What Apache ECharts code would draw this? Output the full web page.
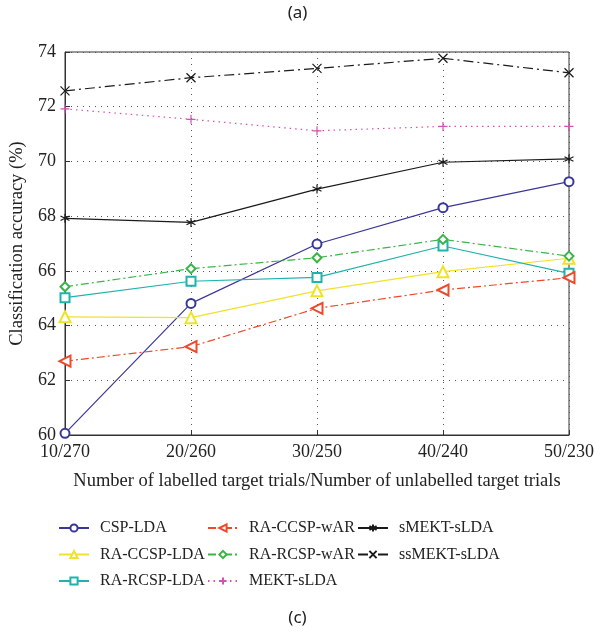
<!DOCTYPE html>
<html lang="en">

<head>
    <meta charset="UTF-8">
    <title>Classification accuracy</title>
    <style>
        * {
            margin: 0;
            padding: 0;
        }

        .box {
            width: 595px;
            height: 634px;
        }
    </style>
</head>

<body>
    <div class="box"></div>

    <script src="https://cdn.jsdelivr.net/npm/echarts@6/dist/echarts.min.js"></script>
    <script>
        var categories = ['10/270', '20/260', '30/250', '40/240', '50/230'];
        var yTicks = [60, 62, 64, 66, 68, 70, 72, 74];

        var cspLda = [60.06, 64.81, 66.98, 68.31, 69.26];
        var raCcspLda = [64.32, 64.29, 65.27, 65.97, 66.46];
        var raRcspLda = [65.02, 65.62, 65.76, 66.91, 65.91];
        var raCcspWar = [62.70, 63.23, 64.63, 65.30, 65.75];
        var raRcspWar = [65.42, 66.08, 66.48, 67.15, 66.54];
        var mektSlda = [71.92, 71.54, 71.12, 71.28, 71.28];
        var smektSlda = [67.92, 67.77, 68.99, 69.97, 70.09];
        var ssmektSlda = [72.58, 73.06, 73.40, 73.77, 73.24];

        var font = 'Liberation Serif';
        var plusPath = 'path://M5,0L5,10M0,5L10,5';
        var starPath = 'path://M5,0L5,10M0.7,2.5L9.3,7.5M0.7,7.5L9.3,2.5';
        var crossPath = 'path://M0,0L10,10M0,10L10,0';
        var dashDot = [8, 3, 2, 3];

        // name, data, color, symbol, line type, rotate
        var defs = [
            ['CSP-LDA', cspLda, '#3a3797', 'emptyCircle', 'solid', 0],
            ['RA-CCSP-LDA', raCcspLda, '#f0e229', 'emptyTriangle', 'solid', 0],
            ['RA-RCSP-LDA', raRcspLda, '#1fb3ad', 'emptyRect', 'solid', 0],
            ['RA-CCSP-wAR', raCcspWar, '#ec4a2b', 'emptyTriangle', dashDot, 90],
            ['RA-RCSP-wAR', raRcspWar, '#3bb54a', 'emptyDiamond', dashDot, 0],
            ['MEKT-sLDA', mektSlda, '#d552b2', plusPath, [1.5, 4], 0],
            ['sMEKT-sLDA', smektSlda, '#1a1a1a', starPath, 'solid', 0],
            ['ssMEKT-sLDA', ssmektSlda, '#1a1a1a', crossPath, [10, 4, 2, 4], 0]
        ];

        var series = [];
        defs.forEach(function (d) {
            var isPath = d[3].indexOf('path://') === 0;
            series.push({
                name: d[0],
                type: 'line',
                data: d[1],
                color: d[2],
                symbol: d[3],
                symbolSize: d[3] === 'emptyTriangle' ? 11 : 9,
                symbolRotate: d[5],
                showAllSymbol: true,
                lineStyle: {
                    color: d[2],
                    width: 1.2,
                    type: d[4]
                },
                itemStyle: isPath ? {
                    color: 'rgba(0,0,0,0)',
                    borderColor: d[2],
                    borderWidth: 1.2
                } : {
                    color: d[2],
                    borderWidth: 1.2
                },
                emphasis: { disabled: true },
                animation: false
            });
        });

        function legendCol(left, names) {
            return {
                left: left,
                top: 520,
                padding: 0,
                orient: 'vertical',
                data: names,
                itemWidth: 30,
                itemHeight: 9,
                itemGap: 10.5,
                textStyle: {
                    fontFamily: font,
                    fontSize: 16,
                    color: '#222',
                    padding: [0, 0, 0, 6]
                }
            };
        }

        var myChart = echarts.init(document.querySelector('.box'));
        var option = {
            backgroundColor: '#fff',
            title: [{
                text: '(a)',
                left: 'center',
                top: 0,
                textStyle: { fontFamily: 'Noto Sans', fontSize: 17, fontWeight: 'normal', color: '#222' }
            }, {
                text: '(c)',
                left: 'center',
                top: 605,
                textStyle: { fontFamily: 'Noto Sans', fontSize: 17, fontWeight: 'normal', color: '#222' }
            }],
            legend: [
                legendCol(58, ['CSP-LDA', 'RA-CCSP-LDA', 'RA-RCSP-LDA']),
                legendCol(207, ['RA-CCSP-wAR', 'RA-RCSP-wAR', 'MEKT-sLDA']),
                legendCol(357, ['sMEKT-sLDA', 'ssMEKT-sLDA'])
            ],
            grid: {
                left: 65,
                right: 26,
                top: 52,
                bottom: 199,
                outerBoundsMode: 'none',
                show: true,
                borderColor: '#333',
                borderWidth: 1
            },
            xAxis: {
                type: 'category',
                data: categories,
                boundaryGap: false,
                name: 'Number of labelled target trials/Number of unlabelled target trials',
                nameLocation: 'middle',
                nameGap: 37,
                nameTextStyle: { fontFamily: font, fontSize: 18.5, color: '#222' },
                axisLine: { lineStyle: { color: '#333' } },
                axisTick: { inside: true, length: 5, lineStyle: { color: '#333' } },
                axisLabel: { fontFamily: font, fontSize: 18, color: '#222', margin: 8 },
                splitLine: { show: true, lineStyle: { color: '#555', type: [1, 5] } }
            },
            yAxis: {
                type: 'value',
                min: 60,
                max: 74,
                interval: 2,
                name: 'Classification accuracy (%)',
                nameLocation: 'middle',
                nameGap: 37,
                nameTextStyle: { fontFamily: font, fontSize: 18.5, color: '#222' },
                axisLine: { show: true, lineStyle: { color: '#333' } },
                axisTick: { show: true, inside: true, length: 5, lineStyle: { color: '#333' } },
                axisLabel: {
                    fontFamily: font, fontSize: 18, color: '#222', margin: 9,
                    formatter: function (v) { return yTicks.indexOf(v) >= 0 ? v : ''; }
                },
                splitLine: { show: true, lineStyle: { color: '#555', type: [1, 5] } }
            },
            series: series
        };
        myChart.setOption(option);
    </script>
</body>

</html>
